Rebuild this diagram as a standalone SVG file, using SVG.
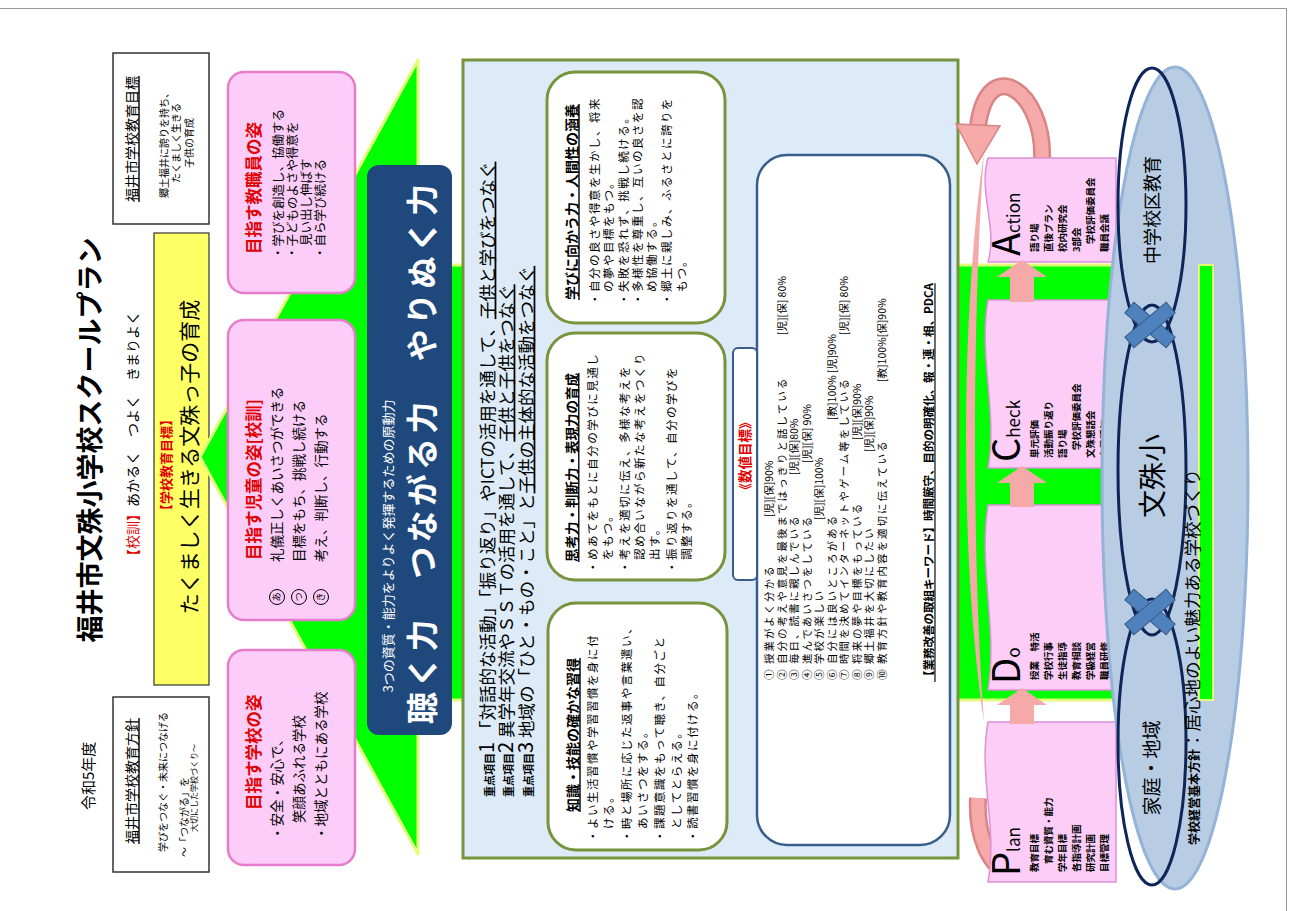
<svg xmlns="http://www.w3.org/2000/svg" width="1295" height="911" viewBox="0 0 1295 911">
<style>
text{font-family:"Noto Sans CJK JP","Noto Sans CJK SC",sans-serif;fill:#000}
.red{fill:#e00000}
.wt{fill:#fff}
.b{font-weight:bold}
.u{text-decoration:underline}
.pink{fill:#fccdf9;stroke:#e67dcb;stroke-width:2.5}
.wbox{fill:#fff;stroke:#77933c;stroke-width:3}
.body{font-size:13.5px}
.sm{font-size:11.5px;letter-spacing:1.5px}
.it{font-size:10.5px;letter-spacing:2px}
.tag{font-size:10.5px}
.pd{fill:#fbcdf7;stroke:#dd90d6;stroke-width:1.5}
.term{font-size:9.5px;font-weight:bold}
.ar{fill:#f5a9a9}
</style>
<rect width="1295" height="911" fill="#fff"/>
<path d="M0 8.5H1286.5V911" fill="none" stroke="#999" stroke-width="1"/>

<g id="header">
<text transform="translate(93.7,810) rotate(-90)" font-size="15">令和5年度</text>
<text transform="translate(100.3,440) rotate(-90)" font-size="27" class="b" text-anchor="middle">福井市文殊小学校スクールプラン</text>
<text transform="translate(138.3,437) rotate(-90)" font-size="14" text-anchor="middle"><tspan class="red">【校訓】</tspan>あかるく　つよく　きまりよく</text>
</g>

<g id="city-goal">
<rect x="113" y="53" width="96" height="171" fill="#fff" stroke="#333" stroke-width="1.5"/>
<text transform="translate(137.3,139) rotate(-90)" font-size="14" class="u" text-anchor="middle">福井市学校教育目標</text>
<text transform="translate(167.8,143) rotate(-90)" font-size="10" text-anchor="middle">郷土福井に誇りを持ち、</text>
<text transform="translate(179.8,143) rotate(-90)" font-size="10" text-anchor="middle">たくましく生きる</text>
<text transform="translate(192.8,143) rotate(-90)" font-size="10" text-anchor="middle">子供の育成</text>
</g>

<g id="city-policy">
<rect x="113" y="697" width="96" height="175" fill="#fff" stroke="#333" stroke-width="1.5"/>
<text transform="translate(137.3,781) rotate(-90)" font-size="14" class="u" text-anchor="middle">福井市学校教育方針</text>
<text transform="translate(166.8,782) rotate(-90)" font-size="10" text-anchor="middle">学びをつなぐ・未来につなげる</text>
<text transform="translate(187.8,857) rotate(-90)" font-size="10">～「つながる」を</text>
<text transform="translate(197,832) rotate(-90)" font-size="8">大切にした学校づくり～</text>
</g>

<g id="school-goal">
<rect x="154" y="233" width="55" height="452" fill="#ffff66" stroke="#333" stroke-width="1.2"/>
<text transform="translate(171,465) rotate(-90)" font-size="13" class="b red" text-anchor="middle">【学校教育目標】</text>
<text transform="translate(197,457) rotate(-90)" font-size="21" text-anchor="middle">たくましく生きる文殊っ子の育成</text>
</g>

<g id="green-arrow">
<polygon points="200,457 418,60 418,265 1212,265 1212,700 418,700 418,854" fill="#00ff00" stroke="#e2ff7a" stroke-width="3" stroke-linejoin="round"/>
</g>

<g id="staff">
<rect x="228" y="72" width="127" height="221" rx="16" class="pink"/>
<text transform="translate(260.3,254) rotate(-90)" font-size="16.5" class="b red">目指す教職員の姿</text>
<text transform="translate(282.8,259) rotate(-90)" font-size="12.5">・学びを創造し、協働する</text>
<text transform="translate(296.8,259) rotate(-90)" font-size="12.5">・子どものよさや得意を</text>
<text transform="translate(310.8,246) rotate(-90)" font-size="12.5">見い出し伸ばす</text>
<text transform="translate(324.8,259) rotate(-90)" font-size="12.5">・自ら学び続ける</text>
</g>

<g id="children">
<rect x="228" y="320" width="127" height="300" rx="16" class="pink"/>
<text transform="translate(260.3,560) rotate(-90)" font-size="16.5" class="b red">目指す児童の姿[校訓]</text>
<g fill="none" stroke="#000" stroke-width="1">
<circle cx="277" cy="597" r="7.5"/><circle cx="299" cy="597" r="7.5"/><circle cx="321" cy="597" r="7.5"/>
</g>
<text transform="translate(280.3,597) rotate(-90)" font-size="9" text-anchor="middle">あ</text>
<text transform="translate(302.3,597) rotate(-90)" font-size="9" text-anchor="middle">つ</text>
<text transform="translate(324.3,597) rotate(-90)" font-size="9" text-anchor="middle">き</text>
<text transform="translate(282,562) rotate(-90)" class="body">礼儀正しくあいさつができる</text>
<text transform="translate(304,562) rotate(-90)" class="body">目標をもち、挑戦し続ける</text>
<text transform="translate(326,562) rotate(-90)" class="body">考え、判断し、行動する</text>
</g>

<g id="school">
<rect x="228" y="650" width="127" height="215" rx="16" class="pink"/>
<text transform="translate(260.3,810) rotate(-90)" font-size="16.5" class="b red">目指す学校の姿</text>
<text transform="translate(282,840) rotate(-90)" class="body">・安全・安心で、</text>
<text transform="translate(304,823) rotate(-90)" class="body">笑顔あふれる学校</text>
<text transform="translate(326,840) rotate(-90)" class="body">・地域とともにある学校</text>
</g>

<g id="power">
<rect x="367" y="165" width="85" height="570" rx="12" fill="#1f497d"/>
<text transform="translate(393,546) rotate(-90)" font-size="13" class="wt" text-anchor="middle">3つの資質・能力をよりよく発揮するための原動力</text>
<text transform="translate(434,454) rotate(-90)" font-size="32" class="b wt" text-anchor="middle" textLength="540" lengthAdjust="spacing">聴く力　つながる力　やりぬく力</text>
</g>

<g id="main-panel">
<rect x="463" y="60" width="495" height="798" fill="#dcebf7" stroke="#77933c" stroke-width="3"/>
<text transform="translate(493.6,797) rotate(-90)" font-size="17.5"><tspan font-size="11" class="b">重点項目</tspan><tspan font-size="20">1</tspan><tspan dx="4">「対話的な活動」「振り返り」やICTの活用を通して、</tspan><tspan class="u">子供と学びをつなぐ</tspan></text>
<text transform="translate(512.6,797) rotate(-90)" font-size="17.5"><tspan font-size="11" class="b">重点項目</tspan><tspan font-size="20">2</tspan><tspan dx="4">異学年交流やＳＳＴの活用を通して、</tspan><tspan class="u">子供と子供をつなぐ</tspan></text>
<text transform="translate(532.6,797) rotate(-90)" font-size="17.5"><tspan font-size="11" class="b">重点項目</tspan><tspan font-size="20">3</tspan><tspan dx="4">地域の「ひと・もの・こと」と</tspan><tspan class="u">子供の主体的な活動をつなぐ</tspan></text>
</g>

<g id="knowledge">
<rect x="548" y="603" width="179" height="247" rx="28" class="wbox"/>
<text transform="translate(578.3,812) rotate(-90)" font-size="14" class="b u">知識・技能の確かな習得</text>
<text transform="translate(597.4,842) rotate(-90)" class="sm">・よい生活習慣や学習習慣を身に付</text>
<text transform="translate(613.4,829) rotate(-90)" class="sm">ける。</text>
<text transform="translate(631.4,842) rotate(-90)" class="sm">・時と場所に応じた返事や言葉遣い、</text>
<text transform="translate(647.4,829) rotate(-90)" class="sm">あいさつをする。</text>
<text transform="translate(664.4,842) rotate(-90)" class="sm">・課題意識をもって聴き、自分ごと</text>
<text transform="translate(681.4,829) rotate(-90)" class="sm">としてとらえる。</text>
<text transform="translate(697.4,842) rotate(-90)" class="sm">・読書習慣を身に付ける。</text>
</g>

<g id="thinking">
<rect x="547" y="333" width="178" height="247" rx="28" class="wbox"/>
<text transform="translate(577.1,562) rotate(-90)" font-size="13.5" class="b u">思考力・判断力・表現力の育成</text>
<text transform="translate(597.4,573) rotate(-90)" class="sm">・めあてをもとに自分の学びに見通し</text>
<text transform="translate(612.4,560) rotate(-90)" class="sm">をもつ。</text>
<text transform="translate(629.4,573) rotate(-90)" class="sm">・考えを適切に伝え、多様な考えを</text>
<text transform="translate(644.4,560) rotate(-90)" class="sm">認め合いながら新たな考えをつくり</text>
<text transform="translate(659.4,560) rotate(-90)" class="sm">出す。</text>
<text transform="translate(676.4,573) rotate(-90)" class="sm">・振り返りを通して、自分の学びを</text>
<text transform="translate(691.4,560) rotate(-90)" class="sm">調整する。</text>
</g>

<g id="attitude">
<rect x="547" y="72" width="178" height="251" rx="28" class="wbox"/>
<text transform="translate(577.3,300) rotate(-90)" font-size="14" class="b u">学びに向かう力・人間性の涵養</text>
<text transform="translate(599.4,305) rotate(-90)" class="sm">・自分の良さや得意を生かし、将来</text>
<text transform="translate(613.4,292) rotate(-90)" class="sm">の夢や目標をもつ。</text>
<text transform="translate(628.4,305) rotate(-90)" class="sm">・失敗を恐れず、挑戦し続ける。</text>
<text transform="translate(642.4,305) rotate(-90)" class="sm">・多様性を尊重し、互いの良さを認</text>
<text transform="translate(656.4,292) rotate(-90)" class="sm">め協働する。</text>
<text transform="translate(671.4,305) rotate(-90)" class="sm">・郷土に親しみ、ふるさとに誇りを</text>
<text transform="translate(686.4,292) rotate(-90)" class="sm">もつ。</text>
</g>

<g id="targets">
<rect x="757" y="155" width="193" height="690" rx="30" fill="#fff" stroke="#385d8a" stroke-width="2.5"/>
<rect x="733" y="348" width="24" height="232" rx="5" fill="#fff" stroke="#385d8a" stroke-width="2"/>
<text transform="translate(750,456) rotate(-90)" font-size="13.5" class="b red" text-anchor="middle">《数値目標》</text>
<g class="it">
<text transform="translate(773,680) rotate(-90)">①</text><text transform="translate(773,664) rotate(-90)">授業がよく分かる</text>
<text transform="translate(785.5,680) rotate(-90)">②</text><text transform="translate(785.5,664) rotate(-90)">自分の考えや意見を最後まではっきりと話している</text>
<text transform="translate(798,680) rotate(-90)">③</text><text transform="translate(798,664) rotate(-90)">毎日、読書に親しんでいる</text>
<text transform="translate(810.5,680) rotate(-90)">④</text><text transform="translate(810.5,664) rotate(-90)">進んであいさつをしている</text>
<text transform="translate(823,680) rotate(-90)">⑤</text><text transform="translate(823,664) rotate(-90)">学校が楽しい</text>
<text transform="translate(835.5,680) rotate(-90)">⑥</text><text transform="translate(835.5,664) rotate(-90)">自分には良いところがある</text>
<text transform="translate(848,680) rotate(-90)">⑦</text><text transform="translate(848,664) rotate(-90)">時間を決めてインターネットやゲーム等をしている</text>
<text transform="translate(860.5,680) rotate(-90)">⑧</text><text transform="translate(860.5,664) rotate(-90)">将来の夢や目標をもっている</text>
<text transform="translate(873,680) rotate(-90)">⑨</text><text transform="translate(873,664) rotate(-90)">郷土福井を大切にしたい</text>
<text transform="translate(885.5,680) rotate(-90)">⑩</text><text transform="translate(885.5,664) rotate(-90)">教育方針や教育内容を適切に伝えている</text>
</g>
<g class="tag">
<text transform="translate(773,517) rotate(-90)">[児][保]90%</text>
<text transform="translate(785.5,335) rotate(-90)">[児][保] 80%</text>
<text transform="translate(798,475) rotate(-90)">[児][保]80%</text>
<text transform="translate(810.5,463) rotate(-90)">[児][保] 90%</text>
<text transform="translate(823,520) rotate(-90)">[児][保]100%</text>
<text transform="translate(835.5,420) rotate(-90)">[教]100% [児]90%</text>
<text transform="translate(848,335) rotate(-90)">[児][保] 80%</text>
<text transform="translate(860.5,440) rotate(-90)">[児][保]90%</text>
<text transform="translate(873,452) rotate(-90)">[児][保]90%</text>
<text transform="translate(885.5,382) rotate(-90)">[教]100%[保]90%</text>
</g>
<text transform="translate(933.4,682) rotate(-90)" font-size="11.5" class="b u">【業務改善の取組キーワード】時間厳守、目的の明確化、報・連・相、PDCA</text>
</g>

<g id="pdca-cycle">
<path d="M1042,160 C1045,92 988,52 978,126" stroke="#d98585" stroke-width="18" fill="none"/>
<path d="M1042,160 C1045,92 988,52 978,126" stroke="#f5a9a9" stroke-width="13" fill="none"/>
<polygon points="956,124 1000,126 977,164" class="ar" stroke="#d98585" stroke-width="1.5"/>
<path d="M978,798 C974,875 1032,905 1040,826" stroke="#d98585" stroke-width="18" fill="none"/>
<path d="M978,798 C974,875 1032,905 1040,826" stroke="#f5a9a9" stroke-width="13" fill="none"/>
<polygon points="1018,828 1062,828 1041,789" class="ar" stroke="#d98585" stroke-width="1.5"/>
<path d="M984,722 C960,560 960,320 984,152 C972,320 972,560 984,722Z" class="ar"/>
</g>

<g id="plan">
<path d="M988,882 C998,826 978,778 988,722 L1116,722 L1116,882 Z" class="pd"/>
<text transform="translate(1020,876) rotate(-90)" font-size="38"><tspan>P</tspan><tspan font-size="17">lan</tspan></text>
<text transform="translate(1037.6,872) rotate(-90)" class="term">教育目標</text>
<text transform="translate(1051.6,864) rotate(-90)" class="term" font-size="8.5">育む資質・能力</text>
<text transform="translate(1065.6,872) rotate(-90)" class="term">学年目標</text>
<text transform="translate(1079.6,872) rotate(-90)" class="term">各指導計画</text>
<text transform="translate(1093.6,872) rotate(-90)" class="term">研究計画</text>
<text transform="translate(1107.6,872) rotate(-90)" class="term">目標管理</text>
</g>
<g id="do">
<path d="M988,690 C998,628 978,567 988,505 L1116,505 L1116,690 Z" class="pd"/>
<text transform="translate(1020,684) rotate(-90)" font-size="38"><tspan>D</tspan><tspan font-size="17">o</tspan></text>
<text transform="translate(1037.6,680) rotate(-90)" class="term">授業　特活</text>
<text transform="translate(1051.6,680) rotate(-90)" class="term">学校行事</text>
<text transform="translate(1065.6,680) rotate(-90)" class="term">生徒指導</text>
<text transform="translate(1079.6,680) rotate(-90)" class="term">教育相談</text>
<text transform="translate(1093.6,680) rotate(-90)" class="term">学級経営</text>
<text transform="translate(1107.6,680) rotate(-90)" class="term">職員研修</text>
</g>
<g id="check">
<path d="M988,468 C998,412 978,356 988,300 L1116,300 L1116,468 Z" class="pd"/>
<text transform="translate(1020,462) rotate(-90)" font-size="38"><tspan>C</tspan><tspan font-size="17">heck</tspan></text>
<text transform="translate(1037.6,458) rotate(-90)" class="term">単元評価</text>
<text transform="translate(1051.6,458) rotate(-90)" class="term">活動振り返り</text>
<text transform="translate(1065.6,458) rotate(-90)" class="term">語り場</text>
<text transform="translate(1079.6,450) rotate(-90)" class="term" font-size="8">学校評価委員会</text>
<text transform="translate(1093.6,458) rotate(-90)" class="term">文殊懇話会</text>
<text transform="translate(1107.6,458) rotate(-90)" class="term">自己評価</text>
</g>
<g id="action">
<path d="M988,262 C998,227 978,193 988,158 L1116,158 L1116,262 Z" class="pd"/>
<text transform="translate(1020,256) rotate(-90)" font-size="38"><tspan>A</tspan><tspan font-size="17">ction</tspan></text>
<text transform="translate(1037.6,252) rotate(-90)" class="term">語り場</text>
<text transform="translate(1051.6,252) rotate(-90)" class="term">直後プラン</text>
<text transform="translate(1065.6,252) rotate(-90)" class="term">校内研究会</text>
<text transform="translate(1079.6,252) rotate(-90)" class="term">3部会</text>
<text transform="translate(1093.6,244) rotate(-90)" class="term" font-size="8">学校評価委員会</text>
<text transform="translate(1107.6,252) rotate(-90)" class="term">職員会議</text>
</g>

<g id="pdca-arrows" class="ar">
<polygon points="1022,688 1047,705 1034,705 1034,724 1010,724 1010,705 997,705"/>
<polygon points="1022,466 1047,483 1034,483 1034,507 1010,507 1010,483 997,483"/>
<polygon points="1022,260 1047,277 1034,277 1034,302 1010,302 1010,277 997,277"/>
</g>

<g id="community">
<ellipse cx="1175" cy="478" rx="73" ry="411" fill="#b8cce4" stroke="#95b3d7" stroke-width="3"/>
<rect x="1199" y="265" width="14" height="435" fill="#00ff00" stroke="#e2ff7a" stroke-width="2"/>
<g fill="none" stroke="#0d2557" stroke-width="3">
<ellipse cx="1152" cy="205" rx="34" ry="137"/>
<ellipse cx="1152" cy="470" rx="34" ry="165"/>
<ellipse cx="1152" cy="742" rx="34" ry="143"/>
</g>
<text transform="translate(1158.8,210) rotate(-90)" font-size="18" text-anchor="middle">中学校区教育</text>
<text transform="translate(1162.6,476) rotate(-90)" font-size="28" text-anchor="middle">文殊小</text>
<text transform="translate(1159.2,768) rotate(-90)" font-size="19" text-anchor="middle">家庭・地域</text>
<g fill="#4f81bd" stroke="#385d8a" stroke-width="1">
<g transform="translate(1150,325)"><rect x="-27" y="-7" width="54" height="14" transform="rotate(40)"/><rect x="-27" y="-7" width="54" height="14" transform="rotate(-40)"/></g>
<g transform="translate(1150,612)"><rect x="-27" y="-7" width="54" height="14" transform="rotate(40)"/><rect x="-27" y="-7" width="54" height="14" transform="rotate(-40)"/></g>
</g>
<text transform="translate(1199,845) rotate(-90)" font-size="17.5"><tspan font-size="12" class="b">学校経営基本方針</tspan>：居心地のよい魅力ある学校づくり</text>
</g>
</svg>
